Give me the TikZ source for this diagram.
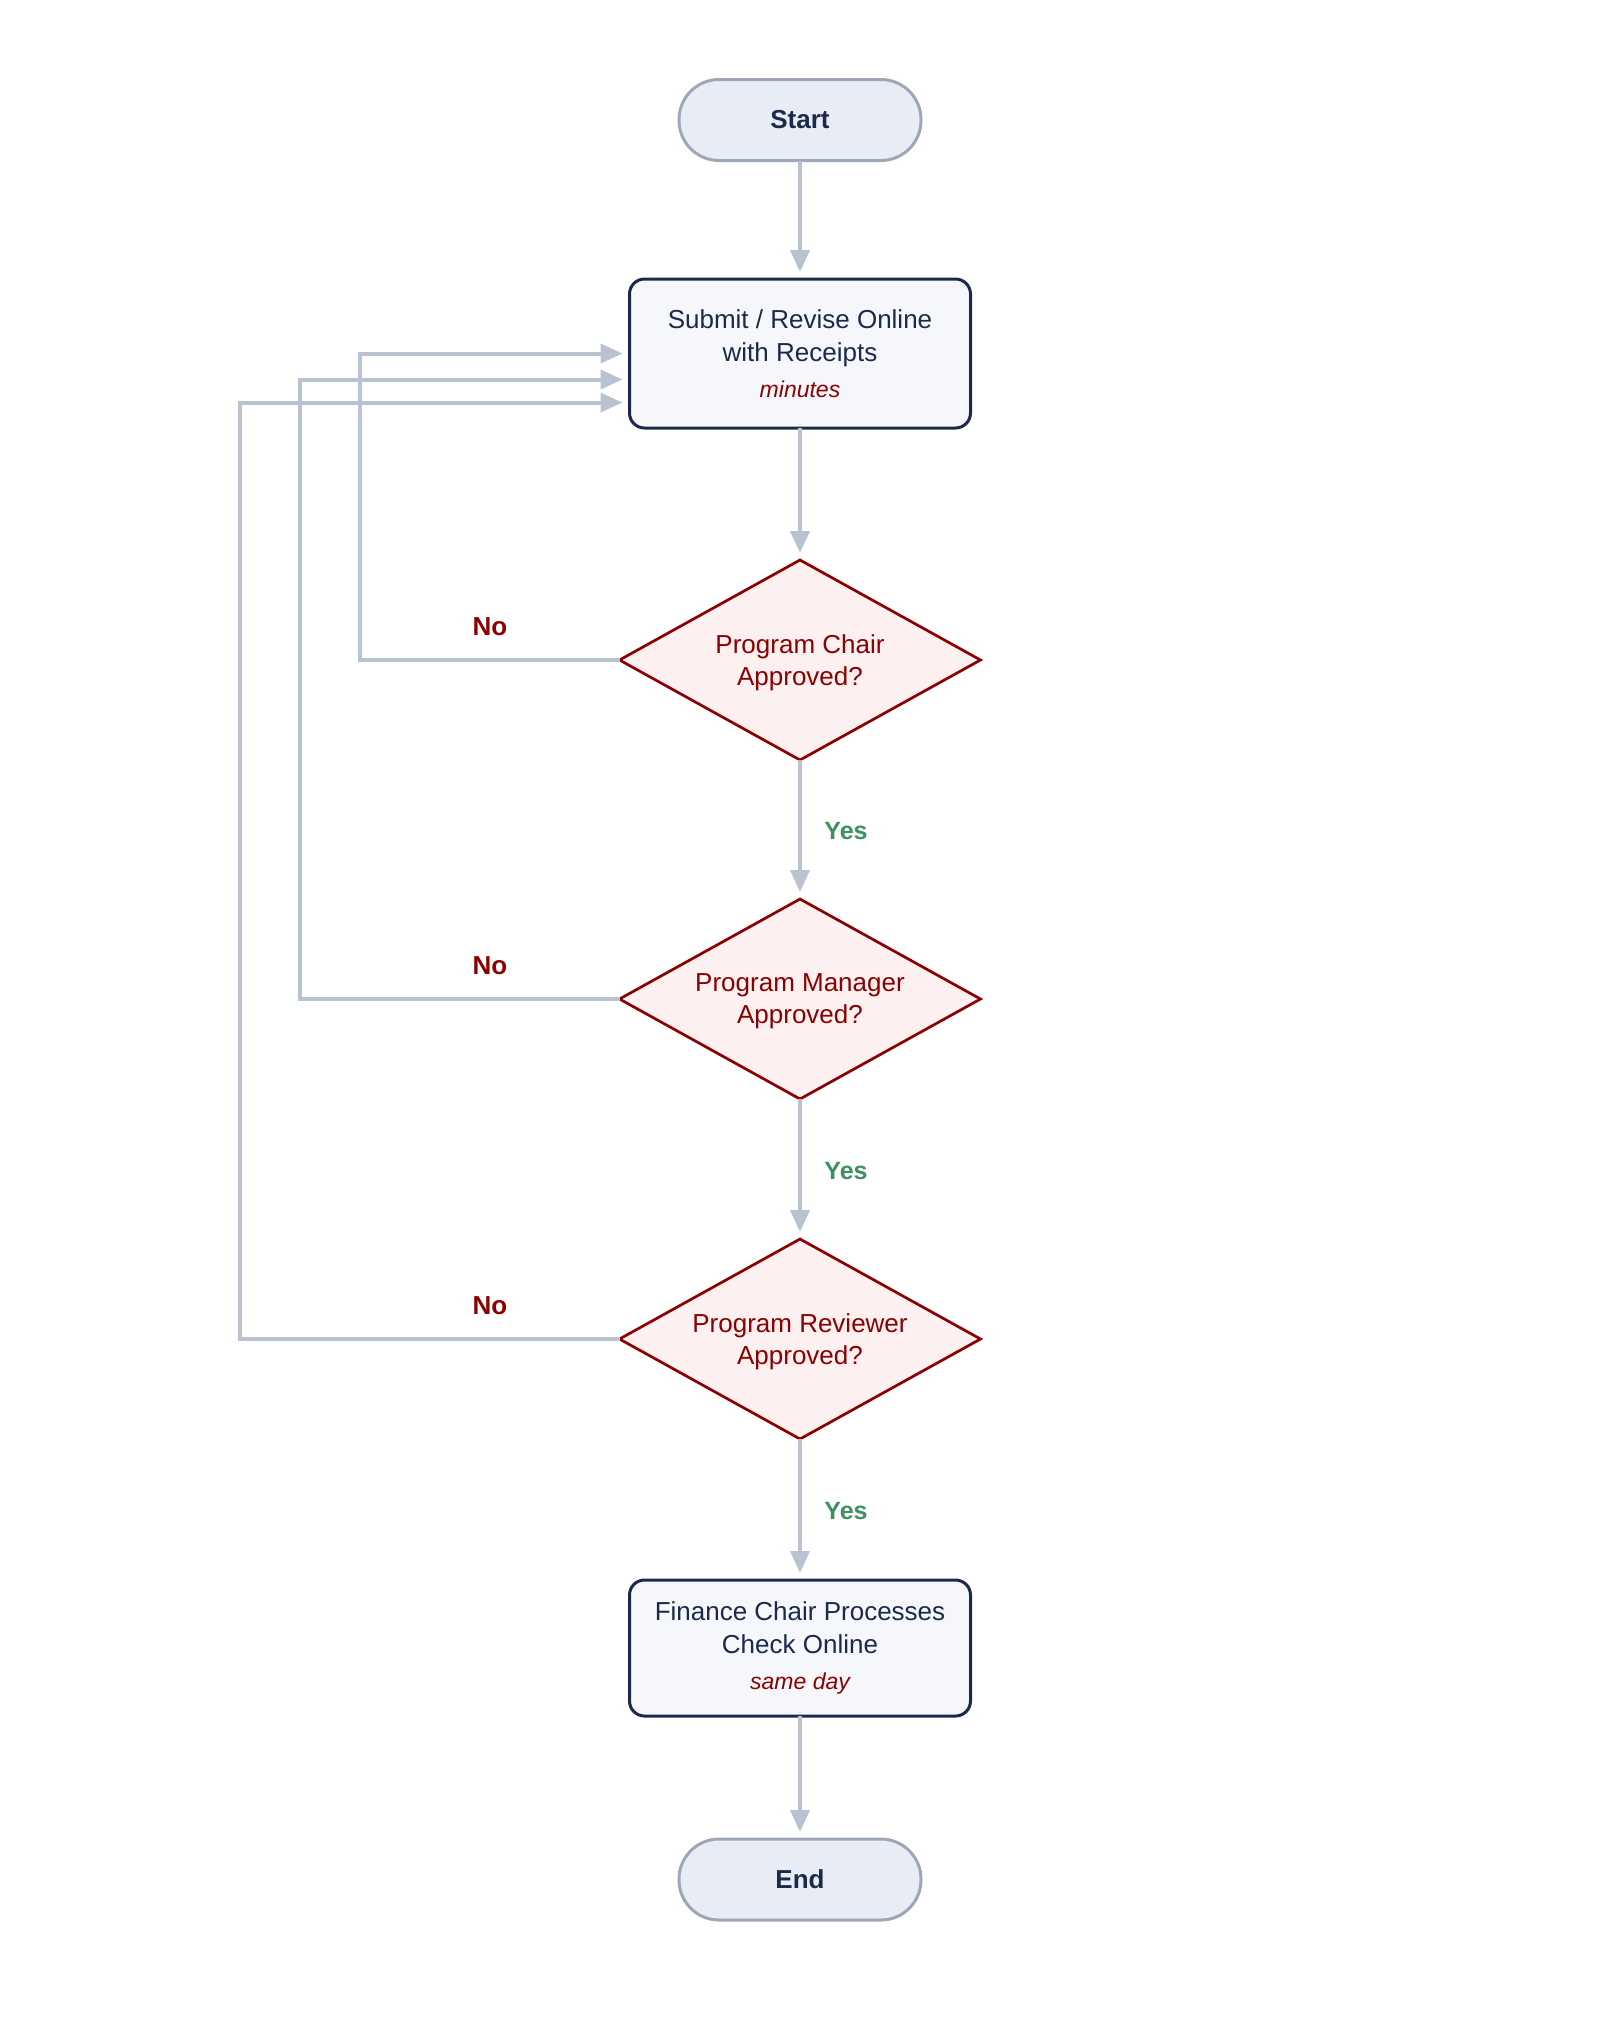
\documentclass[tikz,border=0pt]{standalone}
\usepackage{fontspec}
\setmainfont{Liberation Sans}
\usetikzlibrary{arrows.meta,shapes.geometric,calc}
\definecolor{lineC}{HTML}{B8C2D0}
\definecolor{navy}{HTML}{1B2A4A}
\definecolor{boxfill}{HTML}{F5F7FB}
\definecolor{stadfill}{HTML}{E8ECF4}
\definecolor{stadborder}{HTML}{9EA7B8}
\definecolor{dred}{HTML}{8B0000}
\definecolor{dfill}{HTML}{FCF0F0}
\definecolor{yesgreen}{HTML}{3D9160}
\newcommand{\subtxt}[1]{\\[3pt]{\fontsize{23pt}{28pt}\selectfont\itshape\color{dred}#1}}
\begin{document}
\begin{tikzpicture}[x=1pt,y=-1pt,
  stadium/.style={draw=stadborder,fill=stadfill,line width=3pt,rounded corners=40pt,
    minimum width=242pt,minimum height=81pt,inner sep=0pt,outer sep=0pt,
    text=navy,font=\fontsize{26pt}{33pt}\selectfont\bfseries},
  procbox/.style={draw=navy,fill=boxfill,line width=3pt,rounded corners=15pt,
    minimum width=341pt,inner sep=0pt,outer sep=0pt,align=center,
    text=navy,font=\fontsize{26pt}{33pt}\selectfont},
  decision/.style={draw=dred,fill=dfill,line width=2.7pt,shape=diamond,aspect=1.8,
    minimum width=361pt,minimum height=200pt,inner sep=0pt,outer sep=0pt,align=center,
    text depth=0pt,text=dred,font=\fontsize{26pt}{32pt}\selectfont},
  conn/.style={draw=lineC,line width=4pt,-{Triangle[length=22pt,width=19pt]},shorten >=7pt},
  nolab/.style={text=dred,font=\fontsize{26pt}{30pt}\selectfont\bfseries},
  yeslab/.style={text=yesgreen,font=\fontsize{25pt}{30pt}\selectfont\bfseries}]
\useasboundingbox (0,0) rectangle (1600,2040);
\node[stadium] (start) at (800,120) {Start};
\node[procbox,minimum height=149pt] (submit) at (800,353.5)
  {Submit / Revise Online\\with Receipts\subtxt{minutes}};
\node[decision] (d1) at (800,660) {Program Chair\\Approved?};
\node[decision] (d2) at (800,999) {Program Manager\\Approved?};
\node[decision] (d3) at (800,1339) {Program Reviewer\\Approved?};
\node[procbox,minimum height=136pt] (fin) at (800,1648)
  {Finance Chair Processes\\Check Online\subtxt{same day}};
\node[stadium] (end) at (800,1879.5) {End};

\coordinate (v1) at (360,0);
\coordinate (v2) at (300,0);
\coordinate (v3) at (240,0);

\draw[conn] (start.south) -- (submit.north);
\draw[conn] (submit.south) -- (d1.north);
\draw[conn] (d1.south) -- (d2.north);
\draw[conn] (d2.south) -- (d3.north);
\draw[conn] (d3.south) -- (fin.north);
\draw[conn] (fin.south) -- (end.north);

\draw[conn] (d1.west) -- (d1.west -| v1) |- (submit.west);
\draw[conn] (d2.west) -- (d2.west -| v2) |- ([yshift=-26pt]submit.west);
\draw[conn] (d3.west) -- (d3.west -| v3) |- ([yshift=-49pt]submit.west);

\node[yeslab] (y1) at (846,831) {Yes};
\node[yeslab] (y2) at (846,1171) {Yes};
\node[yeslab] (y3) at (846,1511) {Yes};
\node[nolab] (n1) at (490,627) {No};
\node[nolab] (n2) at (490,966) {No};
\node[nolab] (n3) at (490,1306) {No};
\end{tikzpicture}
\end{document}
